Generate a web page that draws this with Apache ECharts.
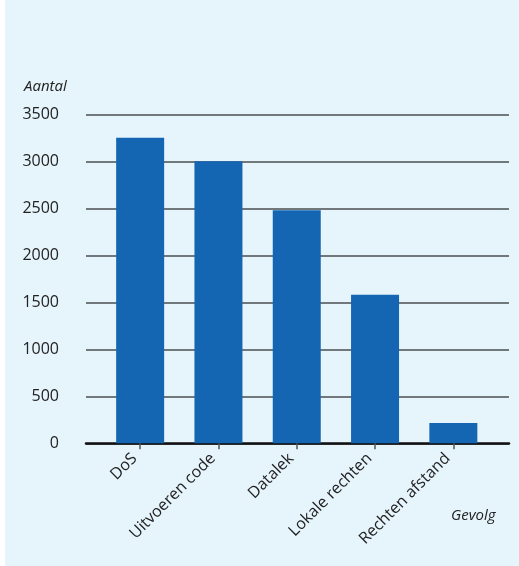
<!DOCTYPE html>
<html>
<head>
<meta charset="utf-8">
<script src="https://cdn.jsdelivr.net/npm/echarts@6/dist/echarts.min.js"></script>
<style>
html,body{margin:0;padding:0;background:#ffffff;}
#c{width:519px;height:566px;}
</style>
</head>
<body>
<div id="c"></div>
<script>
var categories = ['DoS', 'Uitvoeren code', 'Datalek', 'Lokale rechten', 'Rechten afstand'];
var counts = [3250, 3000, 2480, 1580, 215];
var yTicks = [0, 500, 1000, 1500, 2000, 2500, 3000, 3500];
var yLabel = 'Aantal';
var xLabel = 'Gevolg';

(function () {
var chart = echarts.init(document.getElementById('c'), null, {renderer: 'canvas'});
var font = '"Open Sans", sans-serif';
var gTop = 114.3, gBottom = 566 - 443.3;
chart.setOption({
  animation: false,
  graphic: [{
    type: 'rect', z: -10, silent: true,
    shape: {x: 5, y: 0, width: 514, height: 566},
    style: {fill: '#e6f4fc'}
  }],
  title: [
    {text: yLabel, left: 19, top: 74, textStyle: {fontFamily: font, fontStyle: 'italic', fontWeight: 'normal', fontSize: 15, color: '#222'}},
    {text: xLabel, left: 446, top: 503, textStyle: {fontFamily: font, fontStyle: 'italic', fontWeight: 'normal', fontSize: 15, color: '#222'}}
  ],
  grid: [
    {left: 86, right: 10, top: gTop, bottom: gBottom},
    {left: 101, right: 26.5, top: gTop, bottom: gBottom}
  ],
  xAxis: [
    {type: 'category', gridIndex: 0, data: [''],
     axisLine: {show: true, lineStyle: {color: '#111', width: 2.5}},
     axisTick: {show: false}, axisLabel: {show: false}, splitLine: {show: false}},
    {type: 'category', gridIndex: 1, data: categories,
     axisLine: {show: false},
     axisTick: {show: true, alignWithLabel: true, length: 6, lineStyle: {color: '#555', width: 1.5}},
     axisLabel: {rotate: 45, margin: 7, padding: [0, 8, 0, 0], fontFamily: font, fontSize: 16, color: '#222', interval: 0},
     splitLine: {show: false}}
  ],
  yAxis: [
    {type: 'value', gridIndex: 0, min: yTicks[0], max: yTicks[yTicks.length - 1], interval: 500,
     axisLine: {show: false}, axisTick: {show: false},
     axisLabel: {margin: 27, fontFamily: font, fontSize: 16, color: '#222',
                 formatter: function (v) { return String(v); }},
     splitLine: {show: true, lineStyle: {color: '#4a4f52', width: 1.5}}},
    {type: 'value', gridIndex: 1, min: yTicks[0], max: yTicks[yTicks.length - 1], interval: 500,
     show: false, splitLine: {show: false}}
  ],
  series: [{
    type: 'bar', xAxisIndex: 1, yAxisIndex: 1,
    data: counts, barWidth: 48,
    itemStyle: {color: '#1466b2'}
  }]
});
})();
</script>
</body>
</html>
